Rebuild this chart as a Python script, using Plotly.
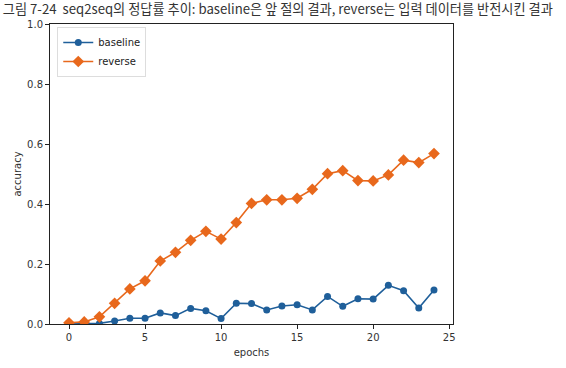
import plotly.graph_objects as go

epochs = list(range(25))
baseline = [0.000, 0.001, 0.002, 0.010, 0.019, 0.019, 0.037, 0.028, 0.052, 0.044,
            0.018, 0.069, 0.068, 0.047, 0.060, 0.064, 0.047, 0.092, 0.059, 0.084,
            0.083, 0.129, 0.111, 0.053, 0.113]
reverse = [0.004, 0.007, 0.024, 0.069, 0.117, 0.144, 0.210, 0.239, 0.279, 0.309,
           0.283, 0.338, 0.402, 0.414, 0.414, 0.419, 0.449, 0.501, 0.511, 0.478,
           0.477, 0.497, 0.546, 0.538, 0.568]
x_ticks = [0, 5, 10, 15, 20, 25]
y_ticks = [0.0, 0.2, 0.4, 0.6, 0.8, 1.0]
title_text = "그림 7-24  seq2seq의 정답률 추이: baseline은 앞 절의 결과, reverse는 입력 데이터를 반전시킨 결과"

blue = "#1f5f9a"
orange = "#e8681c"
mpl_font = "DejaVu Sans, sans-serif"

fig = go.Figure()
fig.add_trace(go.Scatter(x=epochs, y=baseline, name="baseline", mode="lines+markers",
                         line=dict(color=blue, width=1.6),
                         marker=dict(symbol="circle", size=7, color=blue)))
fig.add_trace(go.Scatter(x=epochs, y=reverse, name="reverse", mode="lines+markers",
                         line=dict(color=orange, width=1.6),
                         marker=dict(symbol="diamond", size=9, color=orange)))

axis_common = dict(showline=True, linecolor="#222", linewidth=1, mirror=True,
                   ticks="outside", ticklen=4, tickcolor="#222", showgrid=False,
                   zeroline=False, automargin=False,
                   tickfont=dict(size=10, color="#333", family=mpl_font))
fig.update_xaxes(range=[-1.25, 25.25], tickvals=x_ticks,
                 title=dict(text="epochs", font=dict(size=10, color="#333", family=mpl_font), standoff=6),
                 **axis_common)
fig.update_yaxes(range=[0, 1], tickvals=y_ticks, tickformat=".1f",
                 title=dict(text="accuracy", font=dict(size=10, color="#333", family=mpl_font), standoff=3),
                 **axis_common)

fig.update_layout(
    width=566, height=368,
    margin=dict(l=50, r=113, t=24, b=44, autoexpand=False),
    paper_bgcolor="white", plot_bgcolor="white",
    font=dict(family=mpl_font, color="#333"),
    title=dict(text=title_text, x=0.005, xanchor="left", xref="container",
               y=0.988, yanchor="top", yref="container", automargin=False,
               font=dict(size=13.2, color="#333", family="Noto Sans CJK KR, sans-serif")),
    legend=dict(x=0.018, y=0.99, xanchor="left", yanchor="top",
                bordercolor="#ddd", borderwidth=1, bgcolor="rgba(255,255,255,0.9)",
                font=dict(size=10, color="#222", family=mpl_font), tracegroupgap=0,
                itemwidth=30),
    showlegend=True,
)

fig.write_html("out.html", config={"displayModeBar": False},
               post_script="document.body.style.margin='0';document.body.style.padding='0';")
